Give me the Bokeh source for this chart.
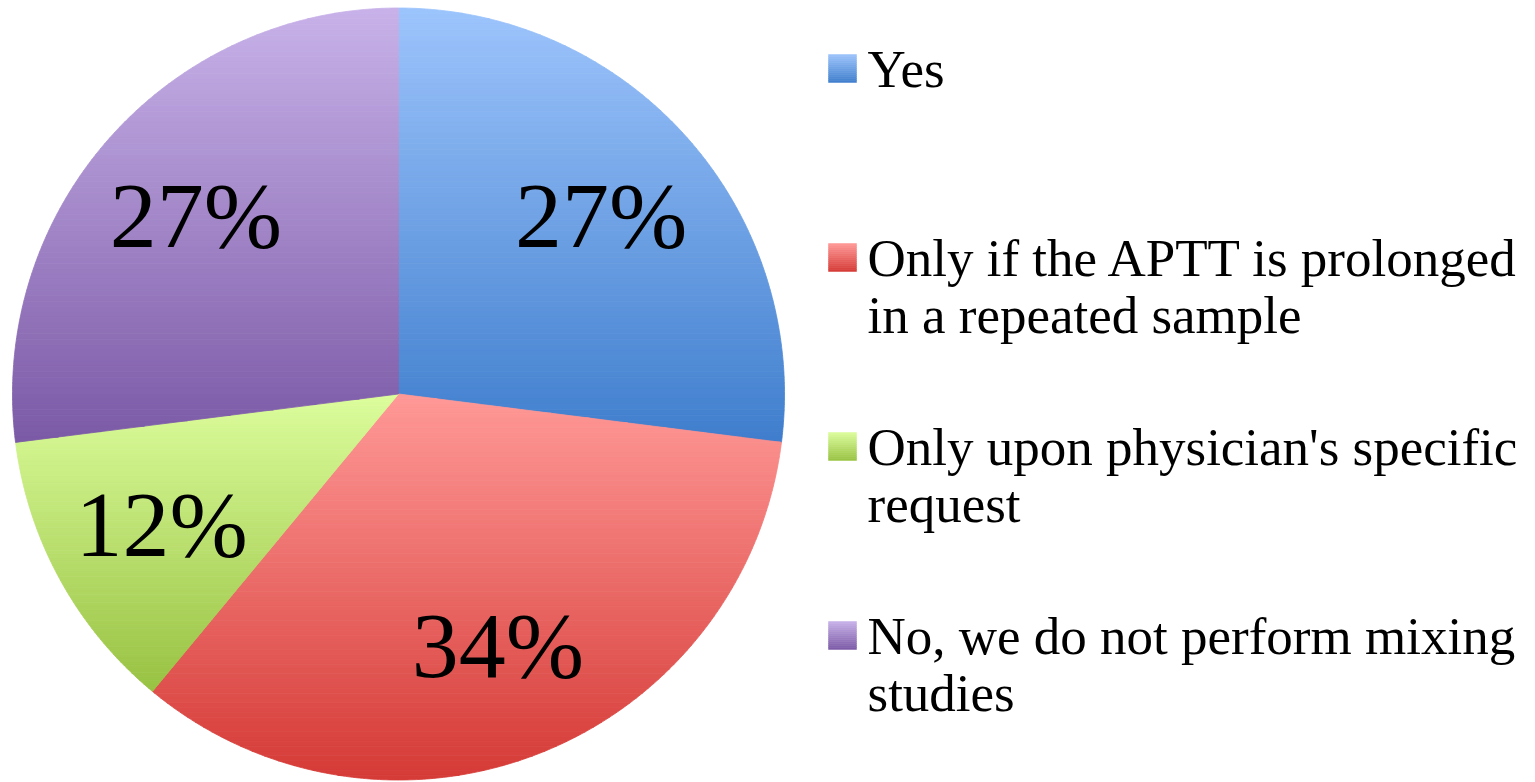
import numpy as np
from bokeh.plotting import figure
from bokeh.models import Range1d
from bokeh.core.properties import value
from bokeh.embed import file_html
from bokeh.resources import INLINE

# ---- data ----
categories = ["Yes",
              "Only if the APTT is prolonged\nin a repeated sample",
              "Only upon physician's specific\nrequest",
              "No, we do not perform mixing\nstudies"]
shares = [27, 34, 12, 27]
pct_labels = ["27%", "34%", "12%", "27%"]
top_colors = [(157, 196, 252), (255, 153, 151), (220, 253, 156), (200, 178, 233)]
bottom_colors = [(63, 126, 205), (213, 58, 54), (152, 194, 66), (123, 89, 166)]

W, H = 1527, 782
p = figure(width=W, height=H, output_backend="svg", toolbar_location=None,
           x_range=Range1d(0, W), y_range=Range1d(0, H), min_border=0)
p.axis.visible = False
p.grid.visible = False
p.outline_line_color = None
p.background_fill_color = "white"
p.border_fill_color = "white"

cx, cy, R = 398.0, H - 393.5, 386.0
FONT = "Liberation Serif"


def lerp(c0, c1, t):
    return "#%02x%02x%02x" % tuple(int(round(a + (b - a) * t)) for a, b in zip(c0, c1))


def clip(poly, y, keep_above):
    out = []
    n = len(poly)
    for i in range(n):
        P, Q = poly[i], poly[(i + 1) % n]
        inP = P[1] >= y if keep_above else P[1] <= y
        inQ = Q[1] >= y if keep_above else Q[1] <= y
        if inP:
            out.append(P)
        if inP != inQ:
            t = (y - P[1]) / (Q[1] - P[1])
            out.append((P[0] + t * (Q[0] - P[0]), y))
    return out


total = float(sum(shares))
start = 90.0
xs_all, ys_all, cols_all = [], [], []
label_x, label_y = [], []
for i, s in enumerate(shares):
    sweep = 360.0 * s / total
    a0, a1 = start, start - sweep
    angs = np.radians(np.linspace(a0, a1, max(8, int(sweep * 2))))
    poly = [(cx, cy)] + [(cx + R * np.cos(a), cy + R * np.sin(a)) for a in angs]
    ys = [q[1] for q in poly]
    ymin, ymax = min(ys), max(ys)
    N = 80
    edges = np.linspace(ymax, ymin, N + 1)
    for k in range(N):
        hi, lo = edges[k], edges[k + 1]
        piece = clip(clip(poly, lo, True), hi, False)
        if len(piece) < 3:
            continue
        xs_all.append([q[0] for q in piece])
        ys_all.append([q[1] for q in piece])
        cols_all.append(lerp(top_colors[i], bottom_colors[i], (k + 0.5) / N))
    mid = np.radians((a0 + a1) / 2)
    label_x.append(cx + 0.7 * R * np.cos(mid))
    label_y.append(cy + 0.7 * R * np.sin(mid))
    start = a1

p.patches(xs_all, ys_all, fill_color=cols_all, line_color=cols_all, line_width=0.8)

p.text(x=label_x, y=label_y, text=pct_labels, text_font=value(FONT),
       text_font_size="94px", text_align="center", text_baseline="middle",
       text_color="black")

# ---- legend ----
leg_x = 828.0
row_top = H - 68.0
row_gap = 189.0
line_gap = 57.0
sq = 28.0
qx0, qx1, qy0, qy1, qc = [], [], [], [], []
tx, ty, tt = [], [], []
for i, cat in enumerate(categories):
    yc = row_top - i * row_gap
    nb = 14
    for k in range(nb):
        t = (k + 0.5) / nb
        qx0.append(leg_x)
        qx1.append(leg_x + sq)
        qy1.append(yc + sq / 2 - k * sq / nb)
        qy0.append(yc + sq / 2 - (k + 1) * sq / nb)
        qc.append(lerp(top_colors[i], bottom_colors[i], t))
    for j, line in enumerate(cat.split("\n")):
        tx.append(leg_x + 39)
        ty.append(yc - j * line_gap)
        tt.append(line)

p.quad(left=qx0, right=qx1, bottom=qy0, top=qy1, fill_color=qc, line_color=qc, line_width=0.5)
p.text(x=tx, y=ty, text=tt, text_font=value(FONT), text_font_size="53px",
       text_align="left", text_baseline="middle", text_color="black")

open("out.html", "w").write(file_html(p, INLINE))
